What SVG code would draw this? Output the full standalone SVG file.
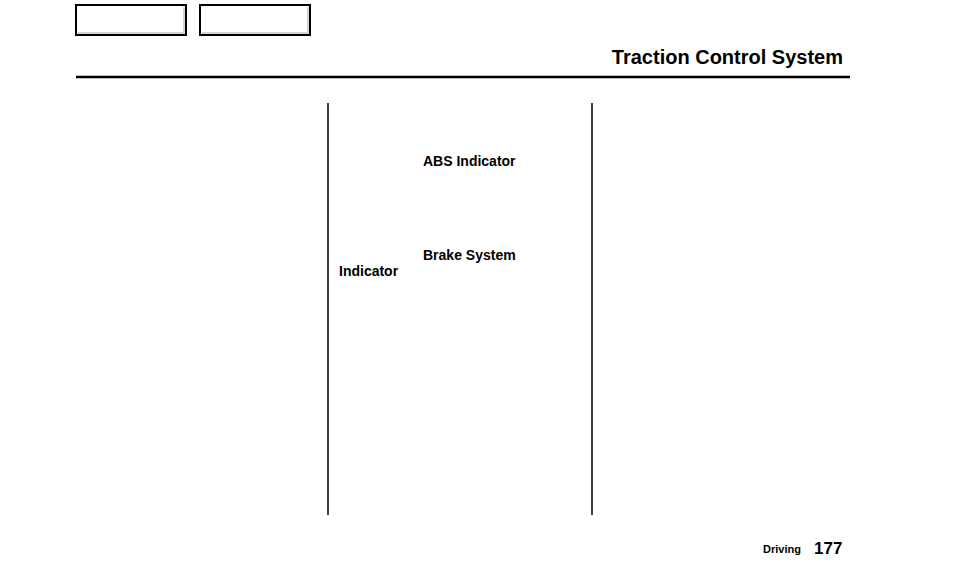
<svg xmlns="http://www.w3.org/2000/svg" width="954" height="572" viewBox="0 0 954 572">
<style>
.b{fill:#fff;stroke:#000;stroke-width:2}
.s{fill:none;stroke:#c8c8c8;stroke-width:1.5}
.t{font-family:"Liberation Sans",Arial,sans-serif;font-weight:bold;fill:#000}
</style>
<rect width="954" height="572" fill="#fff"/>
<g id="btn1"><rect class="b" x="76" y="5" width="110" height="30"/><polyline class="s" points="78,33 184,33 184,7"/></g>
<g id="btn2"><rect class="b" x="200" y="5" width="110" height="30"/><polyline class="s" points="202,33 308,33 308,7"/></g>
<text class="t" x="843" y="64" font-size="20" text-anchor="end">Traction Control System</text>
<line x1="76" y1="77" x2="850" y2="77" stroke="#000" stroke-width="2.5"/>
<line x1="328" y1="103" x2="328" y2="515" stroke="#000" stroke-width="1.5"/>
<line x1="592" y1="103" x2="592" y2="515" stroke="#000" stroke-width="1.5"/>
<g id="abs"><text class="t" x="423" y="166" font-size="14">ABS Indicator</text></g>
<g id="brake"><text class="t" x="423" y="260" font-size="14">Brake System</text></g>
<g id="ind"><text class="t" x="339" y="276" font-size="14">Indicator</text></g>
<g id="connectors"></g>
<text class="t" x="801" y="553" font-size="11" text-anchor="end">Driving</text>
<text class="t" x="814" y="554" font-size="17">177</text>
</svg>
